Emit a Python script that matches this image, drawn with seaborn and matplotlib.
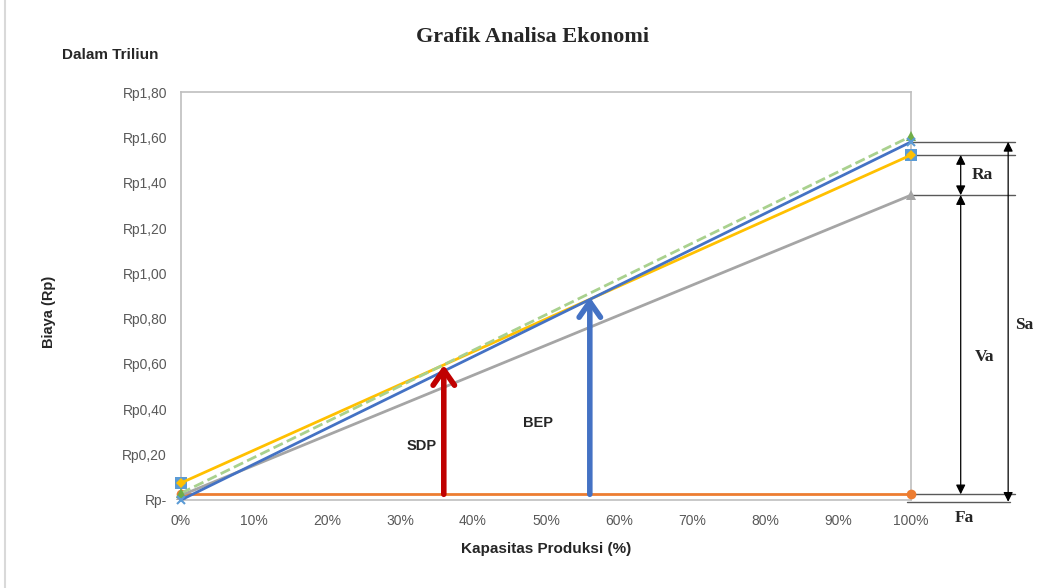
import matplotlib
matplotlib.use("Agg")
import matplotlib.pyplot as plt
import seaborn as sns
import pandas as pd
from matplotlib.patches import Rectangle

# kapasitas produksi (%) dan biaya (Rp triliun)
kapasitas = [0, 100]
fa = [0.025, 0.025]      # fixed cost
va = [0.02, 1.345]       # variable cost
ra = [0.075, 1.522]      # regulated cost
sa = [0.0, 1.58]         # sales
total = [0.03, 1.605]    # total (dashed)

sdp_x, sdp_y = 36, 0.595
bep_x, bep_y = 56, 0.895

y_ticks = [0, 0.2, 0.4, 0.6, 0.8, 1.0, 1.2, 1.4, 1.6, 1.8]
y_labels = ["Rp-", "Rp0,20", "Rp0,40", "Rp0,60", "Rp0,80", "Rp1,00",
            "Rp1,20", "Rp1,40", "Rp1,60", "Rp1,80"]
x_ticks = list(range(0, 101, 10))
x_labels = [str(v) + "%" for v in x_ticks]

sns.set_style("white")
plt.rcParams['font.family'] = ['Liberation Sans', 'DejaVu Sans']

fig = plt.figure(figsize=(10.49, 5.88), dpi=100)
ax = fig.add_axes([0.1725, 0.1497, 0.696, 0.6938])

df = pd.DataFrame({'x': kapasitas, 'fa': fa, 'va': va, 'ra': ra, 'sa': sa, 'total': total})

sns.lineplot(data=df, x='x', y='fa', ax=ax, color='#ED7D31', lw=2,
             marker='o', markersize=7, markeredgewidth=0)
sns.lineplot(data=df, x='x', y='va', ax=ax, color='#A5A5A5', lw=2,
             marker='^', markersize=7, markeredgewidth=0)
sns.lineplot(data=df, x='x', y='ra', ax=ax, color='#5B9BD5', lw=0,
             marker='s', markersize=8, markeredgewidth=0)
sns.lineplot(data=df, x='x', y='ra', ax=ax, color='#FFC000', lw=2,
             marker='D', markersize=5, markeredgewidth=0)
sns.lineplot(data=df, x='x', y='total', ax=ax, color='#A9D18E', lw=2,
             linestyle='--', dashes=(3, 1.5), marker='^', markersize=7,
             markeredgewidth=0, markerfacecolor='#70AD47')
sns.lineplot(data=df, x='x', y='sa', ax=ax, color='#4472C4', lw=2,
             marker='x', markersize=6, markeredgewidth=1.5, markeredgecolor='#5B9BD5')
for ln in ax.lines:
    ln.set_clip_on(False)
    ln.set_zorder(3)

ax.set_xlim(0, 100)
ax.set_ylim(0, 1.8)
ax.set_xticks(x_ticks)
ax.set_xticklabels(x_labels)
ax.set_yticks(y_ticks)
ax.set_yticklabels(y_labels)
ax.tick_params(axis='both', colors='#595959', labelsize=10, length=0, pad=10)
for s in ax.spines.values():
    s.set_color('#BFBFBF')
    s.set_linewidth(1.2)
ax.set_xlabel('Kapasitas Produksi (%)', fontsize=11, fontweight='bold', labelpad=10)
ax.set_ylabel('')

# SDP dan BEP
ax.annotate('', xy=(sdp_x, sdp_y), xytext=(sdp_x, fa[0]),
            arrowprops=dict(arrowstyle='->,head_length=0.5,head_width=0.35', color='#C00000', lw=4,
                            mutation_scale=22, shrinkA=0, shrinkB=0))
ax.annotate('', xy=(bep_x, bep_y), xytext=(bep_x, fa[0]),
            arrowprops=dict(arrowstyle='->,head_length=0.5,head_width=0.35', color='#4472C4', lw=4,
                            mutation_scale=22, shrinkA=0, shrinkB=0))
ax.text(35.0, 0.24, 'SDP', fontsize=10.5, fontweight='bold', ha='right', va='center')
ax.text(51.0, 0.34, 'BEP', fontsize=10.5, fontweight='bold', ha='right', va='center')

# keterangan sisi kanan
for yv, x0, x1 in [(sa[1], 100, 114.2), (ra[1], 100, 114.2), (va[1], 100, 114.2),
                   (fa[1], 100, 114.2), (-0.008, 99.4, 113.6)]:
    ax.plot([x0, x1], [yv, yv], color='#595959', lw=1, clip_on=False, zorder=1)

def dbl(x, y0, y1):
    ax.annotate('', xy=(x, y1), xytext=(x, y0),
                arrowprops=dict(arrowstyle='<|-|>', color='black', lw=0.9,
                                mutation_scale=14, shrinkA=0, shrinkB=0),
                annotation_clip=False)

dbl(106.8, ra[1], va[1])
dbl(106.8, va[1], fa[1])
dbl(113.3, -0.008, sa[1])

serif = ['Liberation Serif', 'DejaVu Serif']
ax.text(109.8, 1.435, 'Ra', fontsize=12.5, fontweight='bold', family=serif, ha='center', va='center', clip_on=False)
ax.text(110.1, 0.63, 'Va', fontsize=12.5, fontweight='bold', family=serif, ha='center', va='center', clip_on=False)
ax.text(115.5, 0.77, 'Sa', fontsize=12.5, fontweight='bold', family=serif, ha='center', va='center', clip_on=False)
ax.text(107.3, -0.08, 'Fa', fontsize=12.5, fontweight='bold', family=serif, ha='center', va='center', clip_on=False)

fig.text(0.508, 0.937, 'Grafik Analisa Ekonomi', fontsize=16, fontweight='bold',
         family=serif, ha='center', va='center')
fig.text(0.059, 0.907, 'Dalam Triliun', fontsize=11, fontweight='bold', ha='left', va='center')
fig.text(0.047, 0.47, 'Biaya (Rp)', fontsize=10.5, fontweight='bold', rotation=90, ha='center', va='center')

fig.patches.append(Rectangle((0.005, -0.01), 1.2, 1.2, transform=fig.transFigure,
                             fill=False, edgecolor='#D9D9D9', lw=1.5))

fig.savefig('out.png', dpi=100)
